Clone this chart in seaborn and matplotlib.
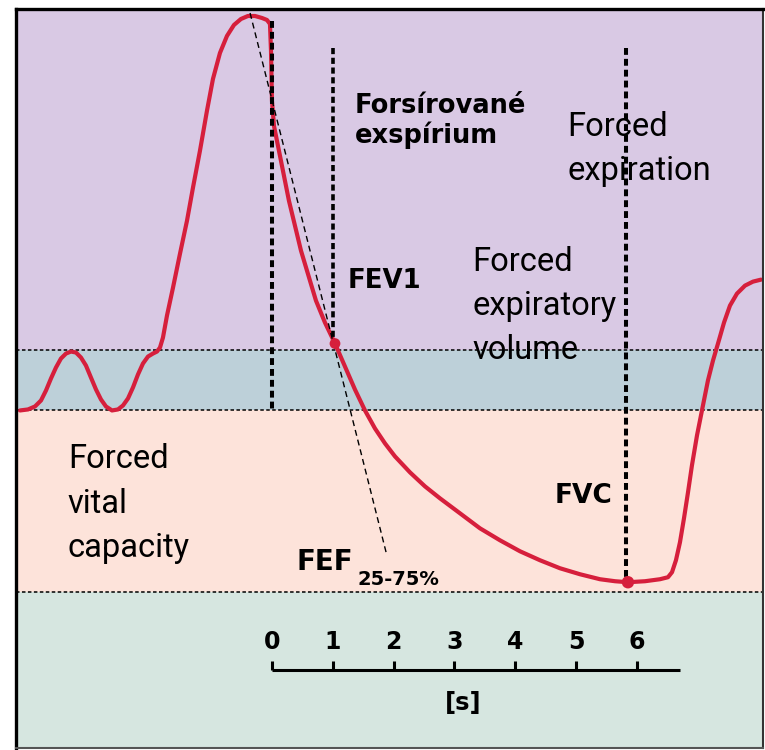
import matplotlib
matplotlib.use("Agg")
import matplotlib.pyplot as plt
import pandas as pd
import seaborn as sns

# Spirogram trace: time [s] and lung volume [l]
time_s = [-4.143, -4.011, -3.896, -3.797, -3.715, -3.633, -3.551, -3.469, -3.386,
          -3.304, -3.222, -3.140, -3.058, -2.976, -2.893, -2.811, -2.729, -2.630,
          -2.532, -2.449, -2.367, -2.285, -2.203, -2.121, -2.038, -1.956, -1.890,
          -1.841, -1.792, -1.726, -1.627, -1.512, -1.397, -1.299, -1.184, -1.069,
          -0.970, -0.855, -0.740, -0.625, -0.510, -0.395, -0.279, -0.164, -0.082,
          -0.033, -0.016, 0.000, 0.033, 0.115, 0.279, 0.477, 0.723, 0.871, 1.036,
          1.200, 1.364, 1.529, 1.693, 1.858, 2.022, 2.269, 2.515, 2.762, 3.091,
          3.419, 3.748, 4.077, 4.406, 4.734, 5.063, 5.392, 5.639, 5.852, 6.132,
          6.378, 6.510, 6.576, 6.641, 6.707, 6.773, 6.839, 6.904, 6.987, 7.085,
          7.167, 7.250, 7.332, 7.431, 7.529, 7.644, 7.776, 7.907, 8.039]
volume_l = [3.38, 3.39, 3.42, 3.48, 3.58, 3.70, 3.81, 3.90, 3.95,
            3.97, 3.96, 3.91, 3.83, 3.71, 3.59, 3.49, 3.42, 3.38,
            3.39, 3.43, 3.50, 3.61, 3.74, 3.85, 3.92, 3.95, 3.97,
            4.01, 4.11, 4.33, 4.61, 4.95, 5.28, 5.61, 5.98, 6.38,
            6.70, 6.96, 7.13, 7.24, 7.30, 7.33, 7.33, 7.31, 7.29,
            7.25, 6.98, 6.48, 6.23, 5.98, 5.48, 4.98, 4.48, 4.26, 4.05,
            3.82, 3.59, 3.38, 3.20, 3.05, 2.92, 2.76, 2.62, 2.50, 2.35,
            2.20, 2.08, 1.97, 1.88, 1.80, 1.74, 1.69, 1.67, 1.66, 1.67,
            1.69, 1.71, 1.76, 1.88, 2.06, 2.30, 2.56, 2.83, 3.13, 3.43,
            3.68, 3.88, 4.05, 4.26, 4.43, 4.55, 4.63, 4.67, 4.69]

# Volume bands (bottom to top) and their fill colours
band_edges = [0.0, 1.56, 3.38, 3.99, 7.40]
band_colors = ["#d6e6e0", "#fde3da", "#bdd0d9", "#d9c9e4"]
band_lines = [1.56, 3.38, 3.99]

# Key markers
fev1_t, fev1_v = 1.036, 4.05
fvc_t, fvc_v = 5.852, 1.66
onset_t, onset_top = 0.0, 7.28
fev1_line_t, fev1_line_top = 1.0, 7.01
fvc_line_t, fvc_line_top = 5.82, 7.01

# FEF 25-75 % slope line (start / end)
fef_t = [-0.36, 1.88]
fef_v = [7.36, 1.95]

# Time axis
time_ticks = [0, 1, 2, 3, 4, 5, 6]
tick_labels = ["0", "1", "2", "3", "4", "5", "6"]
axis_end = 6.71
axis_v = 0.78

RED = "#d61f3c"

sns.set_style("white")
plt.rcParams["text.color"] = "black"
fig = plt.figure(figsize=(7.65, 7.50), dpi=100)
fig.patch.set_facecolor("white")
ax = fig.add_axes([16 / 765, 2 / 750, 747 / 765, 739 / 750])
ax.set_xlim(-4.208, 8.072)
ax.set_ylim(0.0, band_edges[-1])

for lo, hi, col in zip(band_edges[:-1], band_edges[1:], band_colors):
    ax.axhspan(lo, hi, color=col, lw=0, zorder=0)
for y in band_lines:
    ax.axhline(y, color="black", lw=1.1, ls=(0, (2.3, 1.6)), zorder=1)

# the trace itself
df = pd.DataFrame({"t": time_s, "v": volume_l})
sns.lineplot(data=df, x="t", y="v", sort=False, estimator=None, color=RED,
             lw=3.0, ax=ax, zorder=3, solid_joinstyle="round", solid_capstyle="round")

# vertical markers
vdash = (0, (1.7, 1.0))
ax.plot([onset_t, onset_t], [onset_top, band_lines[1]], color="black", lw=2.9, ls=vdash, zorder=4)
ax.plot([fev1_line_t, fev1_line_t], [fev1_line_top, fev1_v], color="black", lw=2.6, ls=vdash, zorder=4)
ax.plot([fvc_line_t, fvc_line_t], [fvc_line_top, fvc_v], color="black", lw=2.9, ls=vdash, zorder=4)

# FEF 25-75 % slope
ax.plot(fef_t, fef_v, color="black", lw=1.0, ls=(0, (4.3, 2.9)), zorder=4)

pts = pd.DataFrame({"t": [fev1_t, fvc_t], "v": [fev1_v, fvc_v], "k": [1, 2]})
sns.scatterplot(data=pts, x="t", y="v", size="k", sizes=(60, 80), color=RED,
                legend=False, edgecolor="none", ax=ax, zorder=5)

# time axis
ax.plot([time_ticks[0], axis_end], [axis_v, axis_v], color="black", lw=2.2,
        solid_capstyle="butt", zorder=4)
for tk, lab in zip(time_ticks, tick_labels):
    ax.plot([tk, tk], [axis_v, axis_v + 0.09], color="black", lw=2.2,
            solid_capstyle="butt", zorder=4)
    ax.text(tk, 1.06, lab, ha="center", va="center", fontsize=17,
            fontweight="bold", family="DejaVu Sans", zorder=6)
ax.text(3.14, 0.45, "[s]", ha="center", va="center", fontsize=17.5,
        fontweight="bold", family="DejaVu Sans", zorder=6)

bold = dict(fontweight="bold", family="DejaVu Sans", va="baseline", ha="left", zorder=6)
ax.text(1.364, 6.36, "Forsírované", fontsize=18.5, **bold)
ax.text(1.364, 6.06, "exspírium", fontsize=18.5, **bold)
ax.text(1.25, 4.61, "FEV1", fontsize=18.7, **bold)
ax.text(4.65, 2.45, "FVC", fontsize=19, **bold)
ax.text(0.411, 1.78, "FEF", fontsize=20, **bold)
ax.text(1.40, 1.63, "25-75%", fontsize=14, **bold)

regular = dict(family="Roboto", fontweight="normal", va="baseline", ha="left",
               fontsize=23.5, zorder=6)
for t0, base, lines in [(4.85, 6.13, ["Forced", "expiration"]),
                        (3.30, 4.78, ["Forced", "expiratory", "volume"]),
                        (-3.354, 2.80, ["Forced", "vital", "capacity"])]:
    for i, line in enumerate(lines):
        ax.text(t0, base - 0.443 * i, line, **regular)

ax.set_xticks([])
ax.set_yticks([])
ax.set_xlabel("")
ax.set_ylabel("")
for side, lw, col in [("left", 2.4, "black"), ("top", 2.4, "black"),
                      ("right", 1.5, "#333333"), ("bottom", 1.5, "#555555")]:
    ax.spines[side].set_visible(True)
    ax.spines[side].set_linewidth(lw)
    ax.spines[side].set_color(col)
    ax.spines[side].set_zorder(7)

fig.savefig("out.png", dpi=100)
